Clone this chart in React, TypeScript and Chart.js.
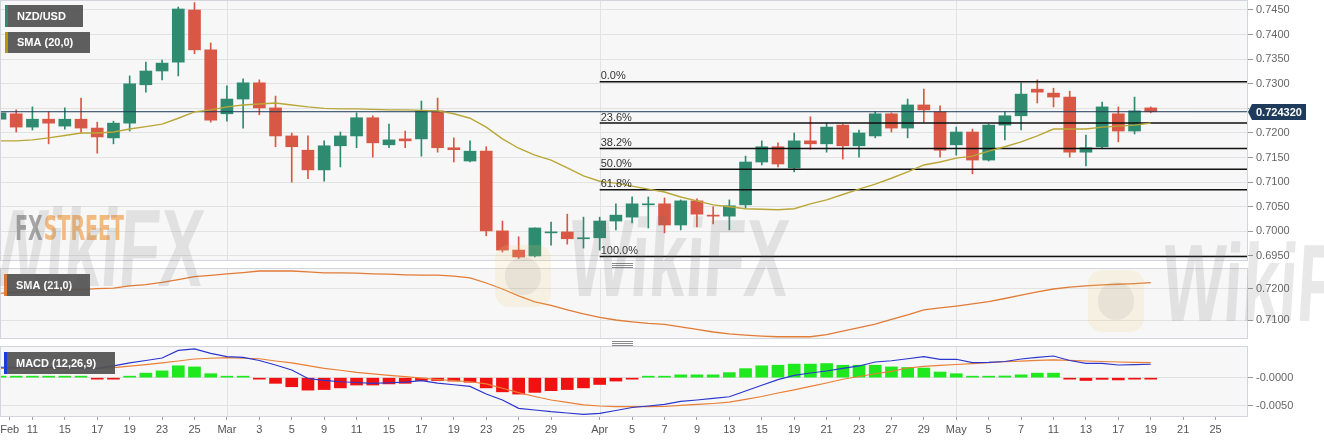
import React, { useEffect, useRef } from 'react';
import { Chart, registerables } from 'chart.js';

Chart.register(...registerables);

// ---------------- data ----------------
const X_MIN = 0;
const X_MAX = 77;
const X_TICK_POS = [0.6, 2, 4, 6, 8, 10, 12, 14, 16, 18, 20, 22, 24, 26, 28, 30, 32, 34, 37, 39, 41, 43, 45, 47, 49, 51, 53, 55, 57, 59, 61, 63, 65, 67, 69, 71, 73, 75];
const X_TICK_LABELS = ['Feb', '11', '15', '17', '19', '23', '25', 'Mar', '3', '5', '9', '11', '15', '17', '19', '23', '25', '29', 'Apr', '5', '7', '9', '13', '15', '19', '21', '23', '27', '29', 'May', '5', '7', '11', '13', '17', '19', '21', '25'];
const MONTH_START = [14, 37, 59];

const OPEN = [0.7228, 0.7239, 0.7212, 0.7228, 0.7214, 0.7228, 0.7210, 0.7190, 0.7220, 0.7298,
  0.7326, 0.7344, 0.7450, 0.7369, 0.7239, 0.7269, 0.7302, 0.7251, 0.7194, 0.7165,
  0.7125, 0.7174, 0.7194, 0.7231, 0.7176, 0.7188, 0.7188, 0.7245, 0.7170, 0.7143,
  0.7163, 0.7001, 0.6962, 0.6950, 0.6997, 0.6999, 0.6985, 0.6987, 0.7021, 0.7029,
  0.7054, 0.7056, 0.7013, 0.7062, 0.7033, 0.7031, 0.7054, 0.7141, 0.7172, 0.7129,
  0.7184, 0.7178, 0.7216, 0.7174, 0.7194, 0.7239, 0.7210, 0.7257, 0.7243, 0.7176,
  0.7202, 0.7145, 0.7216, 0.7235, 0.7289, 0.7281, 0.7273, 0.7161, 0.7172, 0.7239,
  0.7204, 0.7251];
const HIGH = [0.7255, 0.7247, 0.7253, 0.7243, 0.7251, 0.7271, 0.7222, 0.7224, 0.7316, 0.7344,
  0.7348, 0.7456, 0.7465, 0.7383, 0.7296, 0.7310, 0.7308, 0.7275, 0.7200, 0.7194,
  0.7184, 0.7202, 0.7241, 0.7235, 0.7218, 0.7204, 0.7265, 0.7271, 0.7190, 0.7184,
  0.7172, 0.7021, 0.6989, 0.7007, 0.7019, 0.7035, 0.7029, 0.7029, 0.7056, 0.7070,
  0.7070, 0.7068, 0.7064, 0.7066, 0.7050, 0.7064, 0.7153, 0.7184, 0.7180, 0.7200,
  0.7233, 0.7220, 0.7218, 0.7206, 0.7243, 0.7241, 0.7269, 0.7289, 0.7255, 0.7212,
  0.7208, 0.7218, 0.7243, 0.7302, 0.7308, 0.7291, 0.7285, 0.7196, 0.7263, 0.7253,
  0.7273, 0.7253];
const LOW = [0.7220, 0.7202, 0.7206, 0.7178, 0.7208, 0.7200, 0.7159, 0.7178, 0.7204, 0.7283,
  0.7308, 0.7316, 0.7361, 0.7222, 0.7224, 0.7210, 0.7237, 0.7172, 0.7100, 0.7107,
  0.7102, 0.7131, 0.7170, 0.7151, 0.7170, 0.7170, 0.7153, 0.7161, 0.7141, 0.7141,
  0.6991, 0.6958, 0.6945, 0.6948, 0.6972, 0.6974, 0.6966, 0.6962, 0.7003, 0.7017,
  0.7007, 0.6997, 0.7003, 0.7009, 0.7015, 0.7003, 0.7048, 0.7135, 0.7131, 0.7121,
  0.7167, 0.7161, 0.7147, 0.7151, 0.7190, 0.7202, 0.7190, 0.7222, 0.7151, 0.7155,
  0.7117, 0.7143, 0.7186, 0.7206, 0.7261, 0.7253, 0.7151, 0.7133, 0.7170, 0.7182,
  0.7198, 0.7241];
const CLOSE = [0.7241, 0.7212, 0.7228, 0.7220, 0.7228, 0.7210, 0.7192, 0.7220, 0.7300, 0.7326,
  0.7342, 0.7452, 0.7369, 0.7226, 0.7269, 0.7302, 0.7251, 0.7194, 0.7172, 0.7125,
  0.7174, 0.7194, 0.7231, 0.7180, 0.7186, 0.7184, 0.7245, 0.7170, 0.7166, 0.7163,
  0.7001, 0.6962, 0.6948, 0.7007, 0.6999, 0.6985, 0.6987, 0.7021, 0.7033, 0.7056,
  0.7056, 0.7013, 0.7062, 0.7035, 0.7031, 0.7052, 0.7141, 0.7172, 0.7137, 0.7184,
  0.7178, 0.7212, 0.7174, 0.7200, 0.7239, 0.7210, 0.7257, 0.7247, 0.7165, 0.7202,
  0.7145, 0.7216, 0.7235, 0.7279, 0.7283, 0.7273, 0.7161, 0.7170, 0.7253, 0.7204,
  0.7245, 0.72432];

const SMA20 = [0.7184, 0.7184, 0.7186, 0.7190, 0.7195, 0.7200, 0.7200, 0.7202, 0.7208, 0.7213,
  0.7218, 0.7230, 0.7243, 0.7247, 0.7253, 0.7257, 0.7259, 0.7261, 0.7257, 0.7253,
  0.7250, 0.7249, 0.7249, 0.7248, 0.7247, 0.7247, 0.7246, 0.7245, 0.7239, 0.7230,
  0.7212, 0.7188, 0.7169, 0.7155, 0.7145, 0.7129, 0.7113, 0.7102, 0.7098, 0.7092,
  0.7086, 0.7080, 0.7070, 0.7062, 0.7054, 0.7050, 0.7046, 0.7045, 0.7044, 0.7046,
  0.7056, 0.7064, 0.7075, 0.7086, 0.7096, 0.7108, 0.7121, 0.7135, 0.7141, 0.7149,
  0.7153, 0.7163, 0.7172, 0.7182, 0.7194, 0.7208, 0.7208, 0.7208, 0.7212, 0.7214,
  0.7216, 0.7220];

const SMA21 = [0.7185, 0.7189, 0.7191, 0.7193, 0.7196, 0.7197, 0.7200, 0.7202, 0.7209, 0.7213,
  0.7220, 0.7229, 0.7238, 0.7242, 0.7247, 0.7251, 0.7256, 0.7256, 0.7256, 0.7253,
  0.7250, 0.7250, 0.7249, 0.7247, 0.7246, 0.7244, 0.7243, 0.7243, 0.7240, 0.7234,
  0.7218, 0.7199, 0.7177, 0.7158, 0.7147, 0.7133, 0.7120, 0.7109, 0.7101, 0.7095,
  0.7090, 0.7087, 0.7079, 0.7071, 0.7063, 0.7057, 0.7053, 0.7050, 0.7048, 0.7048,
  0.7048, 0.7055, 0.7066, 0.7077, 0.7088, 0.7103, 0.7117, 0.7133, 0.7139, 0.7145,
  0.7152, 0.7159, 0.7169, 0.7180, 0.7190, 0.7199, 0.7205, 0.7209, 0.7212, 0.7214,
  0.7216, 0.7219];

const MACD = [0.00184, 0.00184, 0.00184, 0.00180, 0.00175, 0.00171, 0.00166, 0.00207, 0.00260, 0.00304,
  0.00348, 0.00481, 0.00507, 0.00428, 0.00371, 0.00360, 0.00304, 0.00224, 0.00136, -0.00014,
  -0.00049, -0.00072, -0.00085, -0.00099, -0.00090, -0.00080, -0.00053, -0.00097, -0.00125, -0.00155,
  -0.00288, -0.00394, -0.00541, -0.00571, -0.00601, -0.00624, -0.00647, -0.00629, -0.00580, -0.00527,
  -0.00500, -0.00470, -0.00420, -0.00394, -0.00367, -0.00337, -0.00235, -0.00134, -0.00035, 0.00042,
  0.00083, 0.00118, 0.00163, 0.00207, 0.00277, 0.00299, 0.00334, 0.00371, 0.00325, 0.00325,
  0.00267, 0.00269, 0.00286, 0.00330, 0.00357, 0.00383, 0.00304, 0.00254, 0.00251, 0.00224,
  0.00230, 0.00237];

const SIGNAL = [0.00166, 0.00166, 0.00166, 0.00166, 0.00166, 0.00166, 0.00166, 0.00178, 0.00203, 0.00231,
  0.00260, 0.00295, 0.00330, 0.00343, 0.00353, 0.00343, 0.00334, 0.00295, 0.00260, 0.00214,
  0.00166, 0.00131, 0.00094, 0.00067, 0.00041, 0.00018, -0.00009, -0.00032, -0.00051, -0.00072,
  -0.00111, -0.00187, -0.00265, -0.00332, -0.00394, -0.00436, -0.00479, -0.00500, -0.00511, -0.00512,
  -0.00512, -0.00509, -0.00491, -0.00473, -0.00456, -0.00433, -0.00382, -0.00332, -0.00270, -0.00214,
  -0.00155, -0.00094, -0.00028, 0.00021, 0.00069, 0.00110, 0.00171, 0.00198, 0.00216, 0.00233,
  0.00247, 0.00265, 0.00281, 0.00292, 0.00304, 0.00313, 0.00304, 0.00295, 0.00286, 0.00277,
  0.00269, 0.00265];

const HIST = [0.0001, 0.0001, 0.0001, 0.0001, 0.0001, 0.0001, -0.0001, -0.0001, 0.0002, 0.0008,
  0.0012, 0.0021, 0.0019, 0.0007, 0.0001, 0.0001, -0.0002, -0.0010, -0.0016, -0.0022,
  -0.0021, -0.0018, -0.0013, -0.0013, -0.0011, -0.0010, -0.0005, -0.0005, -0.0006, -0.0008,
  -0.0018, -0.0025, -0.0029, -0.0026, -0.0023, -0.0021, -0.0018, -0.0012, -0.0006, -0.0002,
  0.0002, 0.0002, 0.0005, 0.0005, 0.0005, 0.0009, 0.0016, 0.0021, 0.0022, 0.0024,
  0.0024, 0.0025, 0.0022, 0.0022, 0.0022, 0.0019, 0.0018, 0.0017, 0.0010, 0.0007,
  0.0001, 0.0001, 0.0003, 0.0005, 0.0008, 0.0008, -0.0001, -0.0005, -0.0003, -0.0004,
  -0.0002, -0.0002];

const MAIN_TICKS = [0.6950, 0.7000, 0.7050, 0.7100, 0.7150, 0.7200, 0.7250, 0.7300, 0.7350, 0.7400, 0.7450];
const SMA21_TICKS = [0.7100, 0.7200];
const MACD_TICKS = [-0.0050, 0.0];
const MACD_TICK_LABELS = ['-0.0050', '-0.0000'];

const LAST_PRICE = 0.72432;
const FIB_HIGH = 0.7304;
const FIB_LOW = 0.6949;
const FIB_PCTS = [0, 23.6, 38.2, 50, 61.8, 100];
const FIB_START = 37;

// ---------------- styles ----------------
const FONT = "'Liberation Sans', Arial, Helvetica, sans-serif";
const PLOT_BG = '#f7f7f7';
const BORDER = '#d2d5db';
const GRID = '#e2e2e2';
const UP = '#2e8b70';
const DOWN = '#d95745';
const SMA20_COLOR = '#b9a737';
const SMA21_COLOR = '#e27b36';
const MACD_COLOR = '#2b36cf';
const SIGNAL_COLOR = '#ea7f35';
const HIST_UP = '#1fe81f';
const HIST_DOWN = '#f01212';

type Legend = { x: number; y: number; w: number; h: number; color: string; text: string };

function framePlugin(legends: Legend[], handle: boolean) {
  return {
    id: 'frame',
    beforeDraw(chart: any) {
      const { ctx, chartArea: a } = chart;
      ctx.save();
      ctx.fillStyle = '#ffffff';
      ctx.fillRect(0, 0, chart.width, chart.height);
      ctx.fillStyle = PLOT_BG;
      ctx.fillRect(a.left, a.top, a.right - a.left, a.bottom - a.top);
      ctx.restore();
    },
    beforeDatasetsDraw(chart: any) {
      const { ctx, chartArea: a } = chart;
      const xs = chart.scales.x;
      ctx.save();
      ctx.strokeStyle = GRID;
      ctx.lineWidth = 1;
      MONTH_START.forEach((m) => {
        const px = Math.round(xs.getPixelForValue(m)) + 0.5;
        ctx.beginPath();
        ctx.moveTo(px, a.top);
        ctx.lineTo(px, a.bottom);
        ctx.stroke();
      });
      ctx.restore();
    },
    afterDraw(chart: any) {
      const { ctx, chartArea: a } = chart;
      ctx.save();
      ctx.strokeStyle = BORDER;
      ctx.lineWidth = 1;
      ctx.strokeRect(a.left + 0.5, a.top - 0.5, a.right - a.left - 1, a.bottom - a.top + 1);
      if (handle) {
        ctx.strokeStyle = '#8a8a8a';
        for (let k = 0; k < 3; k++) {
          ctx.beginPath();
          ctx.moveTo(612, 1.5 + k * 2);
          ctx.lineTo(633, 1.5 + k * 2);
          ctx.stroke();
        }
      }
      legends.forEach((l) => {
        ctx.fillStyle = 'rgba(82,82,82,0.93)';
        ctx.fillRect(l.x, l.y, l.w, l.h);
        ctx.fillStyle = l.color;
        ctx.fillRect(l.x, l.y, 3, l.h);
        ctx.fillStyle = '#ffffff';
        ctx.font = `bold 11px ${FONT}`;
        ctx.textBaseline = 'middle';
        ctx.textAlign = 'left';
        ctx.fillText(l.text, l.x + 12, l.y + l.h / 2 + 0.5);
      });
      ctx.restore();
    },
  };
}

function yScale(min: number, max: number, ticks: number[], fmt: (v: number, i: number) => string) {
  return {
    type: 'linear',
    position: 'right',
    min,
    max,
    afterBuildTicks: (s: any) => {
      s.ticks = ticks.map((v) => ({ value: v }));
    },
    afterFit: (s: any) => {
      s.width = 76;
      s.paddingTop = 0;
      s.paddingBottom = 0;
    },
    grid: { color: GRID, tickColor: '#9a9a9a', tickLength: 5, drawTicks: true, lineWidth: 1 },
    border: { display: false },
    ticks: { callback: (v: any, i: number) => fmt(Number(v), i), font: { size: 11, family: FONT }, color: '#666666', padding: 3, autoSkip: false },
  };
}

const xHidden = { type: 'linear', min: X_MIN, max: X_MAX, offset: false, display: false, grid: { offset: false } };

const baseOptions = {
  responsive: false,
  maintainAspectRatio: false,
  animation: false,
  devicePixelRatio: 1,
  events: [],
  plugins: { legend: { display: false }, tooltip: { enabled: false } },
};

function buildMain(): any {
  const idx = OPEN.map((_, i) => i);
  const colors = idx.map((i) => (CLOSE[i] >= OPEN[i] ? UP : DOWN));
  const fibDatasets = FIB_PCTS.map((p) => {
    const lvl = FIB_HIGH - ((FIB_HIGH - FIB_LOW) * p) / 100;
    return {
      type: 'line',
      label: `fib ${p}`,
      data: [{ x: FIB_START, y: lvl }, { x: X_MAX, y: lvl }],
      borderColor: '#111111',
      borderWidth: 1.5,
      pointRadius: 0,
      order: 2,
    };
  });
  const mainExtras = {
    id: 'mainExtras',
    beforeDatasetsDraw(chart: any) {
      const { ctx } = chart;
      ctx.save();
      ctx.font = `bold 34px 'Liberation Sans Narrow', 'DejaVu Sans Condensed', ${FONT}`;
      ctx.textBaseline = 'alphabetic';
      const fxW = ctx.measureText('FX').width;
      const stW = ctx.measureText('STREET').width;
      const s = 109 / (fxW + stW + 2);
      ctx.translate(15, 240);
      ctx.scale(s, 1);
      ctx.fillStyle = 'rgba(150,150,150,0.85)';
      ctx.fillText('FX', 0, 0);
      ctx.fillStyle = 'rgba(241,178,112,0.9)';
      ctx.fillText('STREET', fxW + 2, 0);
      ctx.restore();
    },
    afterDatasetsDraw(chart: any) {
      const { ctx } = chart;
      const xs = chart.scales.x;
      const ys = chart.scales.y;
      ctx.save();
      ctx.font = `11px ${FONT}`;
      ctx.fillStyle = '#333333';
      ctx.textBaseline = 'alphabetic';
      ctx.textAlign = 'left';
      FIB_PCTS.forEach((p) => {
        const lvl = FIB_HIGH - ((FIB_HIGH - FIB_LOW) * p) / 100;
        ctx.fillText(`${p.toFixed(1)}%`, xs.getPixelForValue(FIB_START) + 1, ys.getPixelForValue(lvl) - 2.5);
      });
      ctx.restore();
    },
    afterDraw(chart: any) {
      const { ctx, chartArea: a } = chart;
      const y = Math.round(chart.scales.y.getPixelForValue(LAST_PRICE));
      const left = a.right;
      ctx.save();
      ctx.fillStyle = '#ffffff';
      ctx.fillRect(left + 1, y - 10, 74, 20);
      ctx.fillStyle = '#1e3b5b';
      ctx.beginPath();
      ctx.moveTo(left, y);
      ctx.lineTo(left + 4, y - 8);
      ctx.lineTo(left + 58, y - 8);
      ctx.lineTo(left + 58, y + 8);
      ctx.lineTo(left + 4, y + 8);
      ctx.closePath();
      ctx.fill();
      ctx.fillStyle = '#ffffff';
      ctx.font = `bold 11px ${FONT}`;
      ctx.textBaseline = 'middle';
      ctx.fillText(LAST_PRICE.toFixed(6), left + 8, y + 0.5);
      ctx.restore();
    },
  };
  return {
    type: 'bar',
    data: {
      datasets: [
        { type: 'line', label: 'last', data: [{ x: X_MIN, y: LAST_PRICE }, { x: X_MAX, y: LAST_PRICE }], borderColor: '#1e3b5b', borderWidth: 1, pointRadius: 0, order: 3 },
        ...fibDatasets,
        { type: 'line', label: 'SMA (20,0)', data: SMA20.map((v, i) => ({ x: i, y: v })), borderColor: SMA20_COLOR, borderWidth: 1.4, pointRadius: 0, order: 1 },
        { type: 'bar', label: 'wick', data: idx.map((i) => ({ x: i, y: [LOW[i], HIGH[i]] })), backgroundColor: colors, barThickness: 1, grouped: false, order: 6 },
        { type: 'bar', label: 'body', data: idx.map((i) => ({ x: i, y: [OPEN[i], CLOSE[i]] })), backgroundColor: colors, barThickness: 12, grouped: false, minBarLength: 1, order: 5 },
      ],
    },
    options: {
      ...baseOptions,
      layout: { padding: { top: 1, bottom: 2, left: 0, right: 0 } },
      scales: {
        x: xHidden,
        y: yScale(0.694185, 0.746827, MAIN_TICKS, (v) => v.toFixed(4)),
      },
    },
    plugins: [
      framePlugin([
        { x: 5, y: 5, w: 78, h: 22, color: UP, text: 'NZD/USD' },
        { x: 5, y: 32, w: 85, h: 21, color: '#b09a10', text: 'SMA (20,0)' },
      ], false),
      mainExtras,
    ],
  };
}

function buildSma(): any {
  return {
    type: 'line',
    data: {
      datasets: [
        { label: 'SMA (21,0)', data: SMA21.map((v, i) => ({ x: i, y: v })), borderColor: SMA21_COLOR, borderWidth: 1.3, pointRadius: 0 },
      ],
    },
    options: {
      ...baseOptions,
      layout: { padding: { top: 7, bottom: 2, left: 0, right: 0 } },
      scales: {
        x: xHidden,
        y: yScale(0.7044, 0.72623, SMA21_TICKS, (v) => v.toFixed(4)),
      },
    },
    plugins: [framePlugin([{ x: 4, y: 12, w: 86, h: 22, color: SMA21_COLOR, text: 'SMA (21,0)' }], true)],
  };
}

function buildMacd(): any {
  return {
    type: 'bar',
    data: {
      datasets: [
        { type: 'line', label: 'MACD', data: MACD.map((v, i) => ({ x: i, y: v })), borderColor: MACD_COLOR, borderWidth: 1.2, pointRadius: 0, order: 1 },
        { type: 'line', label: 'Signal', data: SIGNAL.map((v, i) => ({ x: i, y: v })), borderColor: SIGNAL_COLOR, borderWidth: 1.2, pointRadius: 0, order: 2 },
        { type: 'bar', label: 'Histogram', data: HIST.map((v, i) => ({ x: i, y: v })), backgroundColor: HIST.map((v) => (v >= 0 ? HIST_UP : HIST_DOWN)), barThickness: 12, minBarLength: 1.5, order: 3 },
      ],
    },
    options: {
      ...baseOptions,
      layout: { padding: { top: 7, bottom: 0, left: 0, right: 0 } },
      scales: {
        x: {
          type: 'linear',
          min: X_MIN,
          max: X_MAX,
          offset: false,
          afterBuildTicks: (s: any) => {
            s.ticks = X_TICK_POS.map((v) => ({ value: v }));
          },
          afterFit: (s: any) => {
            s.height = 26;
            s.paddingLeft = 0;
            s.paddingRight = 0;
          },
          grid: { drawOnChartArea: false, drawTicks: true, tickLength: 4, tickColor: '#a0a0a0', offset: false },
          border: { display: false },
          ticks: { callback: (_v: any, i: number) => X_TICK_LABELS[i], autoSkip: false, maxRotation: 0, minRotation: 0, font: { size: 11, family: FONT }, color: '#555555', padding: 3 },
        },
        y: yScale(-0.00677, 0.00542, MACD_TICKS, (_v, i) => MACD_TICK_LABELS[i]),
      },
    },
    plugins: [framePlugin([{ x: 4, y: 12, w: 111, h: 22, color: '#1a3ae0', text: 'MACD (12,26,9)' }], true)],
  };
}

function ChartCanvas({ top, height, build }: { top: number; height: number; build: () => any }) {
  const ref = useRef<HTMLCanvasElement | null>(null);
  useEffect(() => {
    if (!ref.current) return;
    const chart = new Chart(ref.current, build());
    return () => chart.destroy();
  }, [build]);
  return (
    <canvas
      ref={ref}
      width={1324}
      height={height}
      style={{ position: 'absolute', left: 0, top, width: 1324, height, display: 'block' }}
    />
  );
}

function Watermark({ left, top }: { left: number; top: number }) {
  return (
    <div style={{ position: 'absolute', left, top, width: 320, height: 100, pointerEvents: 'none' }}>
      <div
        style={{
          position: 'absolute', left: 0, top: 30, width: 56, height: 62, borderRadius: 14,
          background: 'rgba(244,205,120,0.16)',
        }}
      >
        <div style={{ position: 'absolute', left: 10, top: 12, width: 36, height: 38, borderRadius: 19, background: 'rgba(120,120,120,0.12)' }} />
      </div>
      <div
        style={{
          position: 'absolute', left: 78, top: -12, fontFamily: FONT, fontWeight: 700, fontSize: 110, lineHeight: '110px',
          color: 'rgba(110,110,110,0.16)', transform: 'scaleX(0.6) skewX(-6deg)', transformOrigin: 'left top', whiteSpace: 'nowrap',
        }}
      >
        WikiFX
      </div>
    </div>
  );
}

export default function App() {
  return (
    <div style={{ position: 'fixed', left: 0, top: 0, width: 1324, height: 442, background: '#ffffff', overflow: 'hidden', fontFamily: FONT }}>
      <ChartCanvas top={0} height={262} build={buildMain} />
      <ChartCanvas top={262} height={78} build={buildSma} />
      <ChartCanvas top={340} height={102} build={buildMacd} />
      <Watermark left={-90} top={205} />
      <Watermark left={495} top={215} />
      <Watermark left={1088} top={240} />
    </div>
  );
}
